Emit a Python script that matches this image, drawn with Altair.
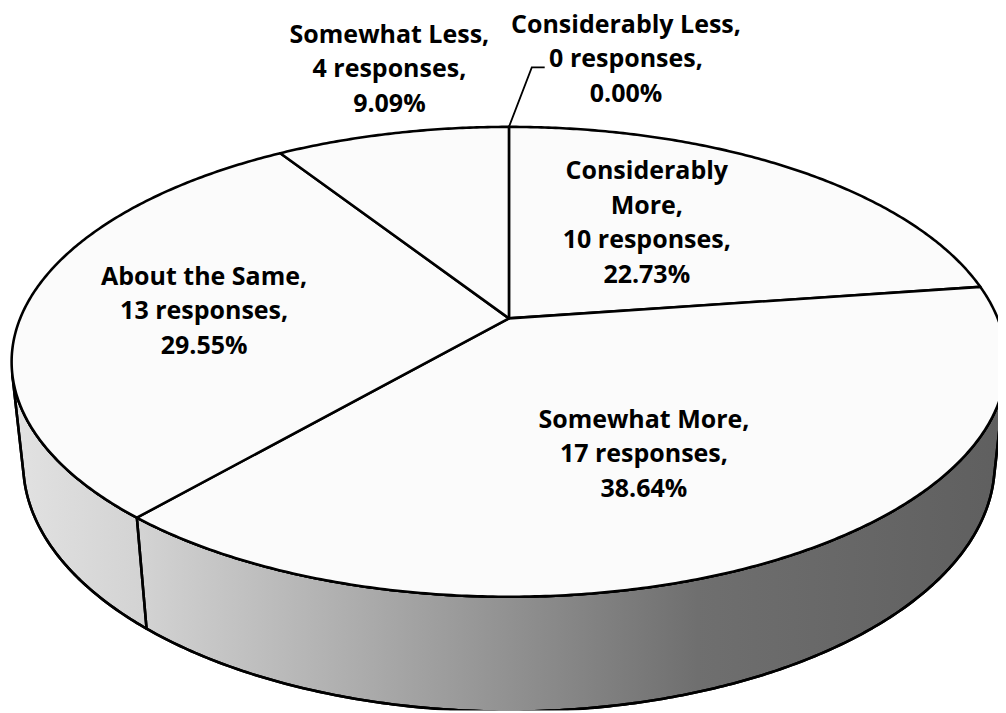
import math
import altair as alt
import pandas as pd

# ---------------- data ----------------
CATEGORIES = ["Considerably More", "Somewhat More", "About the Same", "Somewhat Less", "Considerably Less"]
RESPONSES = [10, 17, 13, 4, 0]
NAME_LINES = [["Considerably", "More,"], ["Somewhat More,"], ["About the Same,"], ["Somewhat Less,"], ["Considerably Less,"]]

# ---------------- view / layout (style, not data) ----------------
ELEVATION_DEG = 27.66      # camera tilt above the pie plane
CAM_DIST = 4.788           # camera distance in pie radii
THICKNESS = 0.237          # pie height in radii
PX_PER_UNIT = 492.7
HUB_PX = (513, 318)
PAGE_MARGIN = 8
STEP = 0.5
FONT_SIZE = 25.2
LINE_HEIGHT = 35
EDGE_W = 2.6
# label placement: angle shift from slice mid-angle (deg) and radial factor
LABEL_SHIFT = [-7.0, 3.9, -1.3, 3.8, 11.85]
LABEL_RADIUS = [0.548, 0.594, 0.628, 1.411, 1.478]
LEADER_END_OFFSET = (-0.1663, -0.0163)
LEADER_ELBOW_DX = -0.0264

SIN_E = math.sin(math.radians(ELEVATION_DEG))
COS_E = math.cos(math.radians(ELEVATION_DEG))


def project(a_deg, r=1.0, depth=0.0):
    a = math.radians(a_deg)
    X = r * math.sin(a)
    Z = r * math.cos(a)
    dd = CAM_DIST + Z * COS_E + depth * SIN_E
    return [CAM_DIST * X / dd, CAM_DIST * (Z * SIN_E - depth * COS_E) / dd]


def arc(a0, a1, depth=0.0):
    n = max(1, int(math.ceil(abs(a1 - a0) / STEP)))
    return [project(a0 + (a1 - a0) * i / n, 1.0, depth) for i in range(n + 1)]


total = sum(RESPONSES)
starts, ends = [], []
acc = 0.0
for v in RESPONSES:
    starts.append(acc / total * 360)
    acc += v
    ends.append(acc / total * 360)

# visible part of the cylinder wall
lim = math.degrees(math.acos(-1.0 / (CAM_DIST * COS_E)))
VIS0, VIS1 = lim, 360 - lim


def feature(coords, kind="Polygon", **props):
    return {"type": "Feature", "geometry": {"type": kind, "coordinates": coords}, "properties": props}


top_feats, side_outline = [], []
for cat, v, s, e in zip(CATEGORIES, RESPONSES, starts, ends):
    if v > 0:
        ring = [[0.0, 0.0]] + arc(s, e) + [[0.0, 0.0]]
        top_feats.append(feature([ring], name=cat))
    lo, hi = max(s, VIS0), min(e, VIS1)
    if hi > lo:
        ring = arc(lo, hi) + arc(hi, lo, THICKNESS)
        ring.append(ring[0])
        side_outline.append(feature([ring], name=cat))

side_ring = arc(VIS0, VIS1) + arc(VIS1, VIS0, THICKNESS)
side_ring.append(side_ring[0])
side_fill = [feature([side_ring], name="side")]

labels = []
centers = []
for i, (cat, v, s, e) in enumerate(zip(CATEGORIES, RESPONSES, starts, ends)):
    pct = f"{v / total * 100:.2f}%"
    lines = NAME_LINES[i] + [f"{v} responses,", pct]
    x, y = project((s + e) / 2 + LABEL_SHIFT[i], LABEL_RADIUS[i])
    centers.append((x, y))
    # text block is anchored at its first line: move it up by half the block height
    y_first = y + (len(lines) - 1) * LINE_HEIGHT / 2 / PX_PER_UNIT
    labels.append({"lon": x, "lat": y_first, "label": "\n".join(lines), "value": v})
labels_df = pd.DataFrame(labels)

# leader for the zero slice
zi = RESPONSES.index(0)
cx, cy = centers[zi]
end_pt = [cx + LEADER_END_OFFSET[0], cy + LEADER_END_OFFSET[1]]
elbow = [end_pt[0] + LEADER_ELBOW_DX, end_pt[1]]
leader = [feature([project(starts[zi], 1.0), elbow, end_pt], kind="LineString")]

proj = alt.Projection(type="identity", scale=PX_PER_UNIT,
                      translate=[HUB_PX[0] - PAGE_MARGIN, HUB_PX[1] - PAGE_MARGIN], reflectY=True)

grad = alt.Gradient(
    gradient="linear", x1=0, x2=1, y1=0, y2=0,
    stops=[alt.GradientStop(color="#e2e2e2", offset=0),
           alt.GradientStop(color="#d3d3d3", offset=0.13),
           alt.GradientStop(color="#a5a5a5", offset=0.39),
           alt.GradientStop(color="#6f6f6f", offset=0.69),
           alt.GradientStop(color="#5f5f5f", offset=1)])

side_layer = alt.Chart(alt.Data(values=side_fill)).mark_geoshape(
    fill=grad, stroke="black", strokeWidth=EDGE_W).properties(projection=proj)
side_lines = alt.Chart(alt.Data(values=side_outline)).mark_geoshape(
    filled=False, stroke="black", strokeWidth=EDGE_W, strokeJoin="round").properties(projection=proj)
top_layer = alt.Chart(alt.Data(values=top_feats)).mark_geoshape(
    fill="#fbfbfb", stroke="black", strokeWidth=EDGE_W, strokeJoin="round").properties(projection=proj)
leader_layer = alt.Chart(alt.Data(values=leader)).mark_geoshape(
    filled=False, stroke="black", strokeWidth=1.8).properties(projection=proj)
text_layer = alt.Chart(labels_df).mark_text(
    font="Open Sans", fontSize=FONT_SIZE, fontWeight="bold", lineBreak="\n", lineHeight=LINE_HEIGHT,
    align="center", baseline="middle", color="black").encode(
    longitude="lon:Q", latitude="lat:Q", text="label:N").properties(projection=proj)

chart = alt.layer(side_layer, side_lines, top_layer, leader_layer, text_layer).properties(
    width=998, height=705, padding=0, autosize="none"
).configure_view(stroke="transparent")

chart.save("out.html", embed_options={"renderer": "svg", "actions": False})
